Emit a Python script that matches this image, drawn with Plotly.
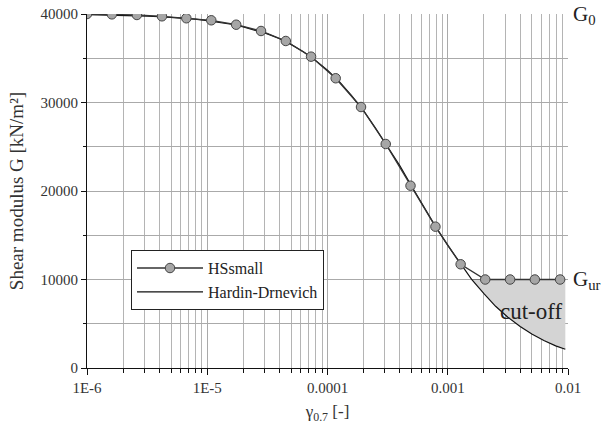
import plotly.graph_objects as go

# ---- data ----
hs_strain = [1.0e-6, 1.61e-6, 2.6e-6, 4.2e-6, 6.7e-6, 1.08e-5, 1.74e-5, 2.8e-5, 4.5e-5,
             7.3e-5, 1.17e-4, 1.9e-4, 3.05e-4, 4.9e-4, 7.9e-4, 1.28e-3, 2.05e-3,
             3.3e-3, 5.3e-3, 8.6e-3]
hs_G = [40000, 39960, 39890, 39740, 39520, 39290, 38790, 38080, 36950,
        35180, 32740, 29490, 25310, 20600, 15970, 11720, 10000,
        10000, 10000, 10000]

hd_strain = [1.0e-6, 1.26e-6, 1.58e-6, 2.0e-6, 2.5e-6, 3.16e-6, 4.0e-6, 5.0e-6, 6.3e-6, 7.9e-6,
             1.0e-5, 1.26e-5, 1.58e-5, 2.0e-5, 2.5e-5, 3.16e-5, 4.0e-5, 5.0e-5, 6.3e-5, 7.9e-5,
             1.0e-4, 1.26e-4, 1.58e-4, 2.0e-4, 2.5e-4, 3.16e-4, 4.0e-4, 5.0e-4, 6.3e-4, 7.9e-4,
             1.0e-3, 1.26e-3, 1.58e-3, 2.0e-3, 2.5e-3, 3.16e-3, 4.0e-3, 5.0e-3, 6.3e-3, 7.9e-3,
             9.5e-3]
hd_G = [39925, 39905, 39880, 39850, 39810, 39760, 39700, 39625, 39530, 39410,
        39260, 39070, 38840, 38550, 38190, 37750, 37200, 36540, 35740, 34790,
        33650, 32320, 30790, 29060, 27140, 25050, 22840, 20560, 18260, 16010,
        13860, 11850, 10020, 8400, 6970, 5740, 4700, 3830, 3100, 2500,
        2120]

G_ur = 10000
x_ticks = [1e-6, 1e-5, 1e-4, 1e-3, 1e-2]
x_ticktext = ["1E-6", "1E-5", "0.0001", "0.001", "0.01"]
y_ticks = [0, 10000, 20000, 30000, 40000]
y_ticktext = ["0", "10000", "20000", "30000", "40000"]

FONT = "Liberation Serif, Times New Roman, serif"

# cut-off region (between G_ur and the curve where the curve is below G_ur)
cut_x = [x for x, g in zip(hd_strain, hd_G) if g <= G_ur + 50]
cut_g = [g for g in hd_G if g <= G_ur + 50]

fig = go.Figure()
fig.add_trace(go.Scatter(x=cut_x, y=[G_ur] * len(cut_x), mode="lines",
                         line=dict(width=0), showlegend=False, hoverinfo="skip"))
fig.add_trace(go.Scatter(x=cut_x, y=cut_g, mode="lines", line=dict(width=0),
                         fill="tonexty", fillcolor="#d4d4d4",
                         showlegend=False, hoverinfo="skip"))
fig.add_trace(go.Scatter(x=cut_x, y=[G_ur] * len(cut_x), mode="lines",
                         line=dict(width=1.2, color="#777777"),
                         showlegend=False, hoverinfo="skip"))
fig.add_trace(go.Scatter(x=hd_strain, y=hd_G, mode="lines", name="Hardin-Drnevich",
                         line=dict(color="#111111", width=1.2),
                         legendrank=2, legendgroup="hd"))
fig.add_trace(go.Scatter(x=hs_strain, y=hs_G, mode="lines+markers", name="HSsmall",
                         line=dict(color="#333333", width=1.3),
                         marker=dict(size=9.5, color="#a6a6a6",
                                     line=dict(color="#444444", width=1)),
                         legendrank=1, legendgroup="hs"))

fig.add_annotation(x=1.0, xref="paper", y=40000, yref="y", xanchor="left", yanchor="middle",
                   xshift=3, yshift=-1, text="G<sub>0</sub>", showarrow=False,
                   font=dict(family=FONT, size=21, color="#222222"))
fig.add_annotation(x=1.0, xref="paper", y=G_ur, yref="y", xanchor="left", yanchor="middle",
                   xshift=3, text="G<sub>ur</sub>", showarrow=False,
                   font=dict(family=FONT, size=21, color="#222222"))
fig.add_annotation(x=-2.0, xref="x", y=6400, yref="y", xanchor="right", yanchor="middle",
                   xshift=-3, text="cut-off", showarrow=False,
                   font=dict(family=FONT, size=23, color="#222222"))

fig.update_layout(
    width=608, height=426,
    margin=dict(l=87, r=40, t=14, b=58, autoexpand=False),
    paper_bgcolor="white", plot_bgcolor="white",
    font=dict(family=FONT, size=15, color="#333333"),
    showlegend=True,
    legend=dict(x=0.0915, y=0.333, xanchor="left", yanchor="top",
                traceorder="normal",
                bgcolor="white", bordercolor="#222222", borderwidth=1,
                font=dict(family=FONT, size=16, color="#222222"),
                itemwidth=66, tracegroupgap=11),
)

fig.update_xaxes(
    type="log", range=[-6, -2], automargin=False,
    tickvals=x_ticks, ticktext=x_ticktext,
    showline=True, linecolor="#111111", linewidth=1,
    ticks="outside", ticklen=6, tickcolor="#111111",
    showgrid=True, gridcolor="#aaaaaa", gridwidth=1,
    minor=dict(dtick="D1", showgrid=True, gridcolor="#b4b4b4",
               ticks="outside", ticklen=4, tickcolor="#111111"),
    zeroline=False,
    title=dict(text="γ<sub>0.7</sub> [-]", font=dict(family=FONT, size=17, color="#333333"),
               standoff=10),
    tickfont=dict(family=FONT, size=15, color="#333333"),
    ticklabeloverflow="allow",
)
fig.update_yaxes(
    range=[0, 40000], automargin=False,
    tickvals=y_ticks, ticktext=y_ticktext,
    showline=True, linecolor="#111111", linewidth=1,
    ticks="outside", ticklen=5, tickcolor="#111111",
    showgrid=True, gridcolor="#aaaaaa", gridwidth=1,
    minor=dict(dtick=5000, showgrid=True, gridcolor="#aaaaaa",
               ticks="outside", ticklen=3, tickcolor="#111111"),
    zeroline=False,
    title=dict(text="Shear modulus G [kN/m²]", font=dict(family=FONT, size=19, color="#333333"),
               standoff=11),
    tickfont=dict(family=FONT, size=15, color="#333333"),
    ticklabeloverflow="allow",
)

# remove the default 8px page margin so the figure sits at the window's top-left corner
fig.write_html("out.html", config={"displayModeBar": False},
               post_script="document.body.style.margin='0';")
